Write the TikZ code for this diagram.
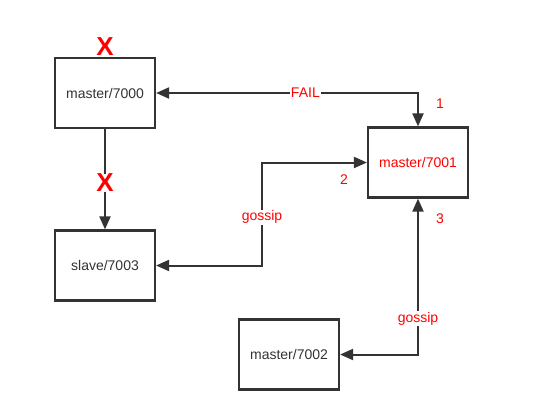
\documentclass[tikz,border=0pt]{standalone}
\usepackage{fontspec}
\setmainfont{Liberation Sans}
\usetikzlibrary{arrows.meta}
\definecolor{dk}{HTML}{333333}
\definecolor{rd}{HTML}{FF0000}
\tikzset{
  box/.style={draw=dk, line width=2.2pt, minimum width=100pt, minimum height=70pt, inner sep=0pt, text=dk, font=\fontsize{14}{16}\selectfont},
  conn/.style={draw=dk, line width=2pt, {Triangle[length=13pt,width=11pt]}-{Triangle[length=13pt,width=11pt]}},
  oneway/.style={draw=dk, line width=2pt, -{Triangle[length=13pt,width=11pt]}},
  lbl/.style={text=rd, font=\fontsize{14}{16}\selectfont, fill=white, inner sep=1pt},
  num/.style={text=rd, font=\fontsize{14}{16}\selectfont, inner sep=0pt},
  cross/.style={text=rd, font=\bfseries\fontsize{26}{28}\selectfont, inner sep=0pt, fill=white}
}
\begin{document}
\begin{tikzpicture}[x=1pt,y=-1pt]
\useasboundingbox (0,0) rectangle (545,415);
\node[box] (m0) at (105,93) {master/7000};
\node[box, text=rd] (m1) at (418,162.5) {master/7001};
\node[box] (s3) at (105,265.5) {slave/7003};
\node[box] (m2) at (289,354.5) {master/7002};
% FAIL
\draw[conn] (m0.east) -- (418,93) node[lbl, pos=0.57] {FAIL} -- (m1.north);
% 7000 -> 7003
\draw[oneway] (m0.south) -- (s3.north);
\node[cross] (x2) at (105,183) {X};
\node[cross, fill=none] (x1) at (105,47) {X};
% gossip 7001 - 7003
\draw[conn] (m1.west) -- (262,162.5) -- (262,265.5) node[lbl, pos=0.53] {gossip} -- (s3.east);
% gossip 7001 - 7002
\draw[conn] (m2.east) -- (418,354.5) -- (m1.south) node[lbl, pos=0.23] {gossip};
\node[num] (n1) at (440,104) {1};
\node[num] (n2) at (344,180) {2};
\node[num] (n3) at (440,219) {3};
\end{tikzpicture}
\end{document}
